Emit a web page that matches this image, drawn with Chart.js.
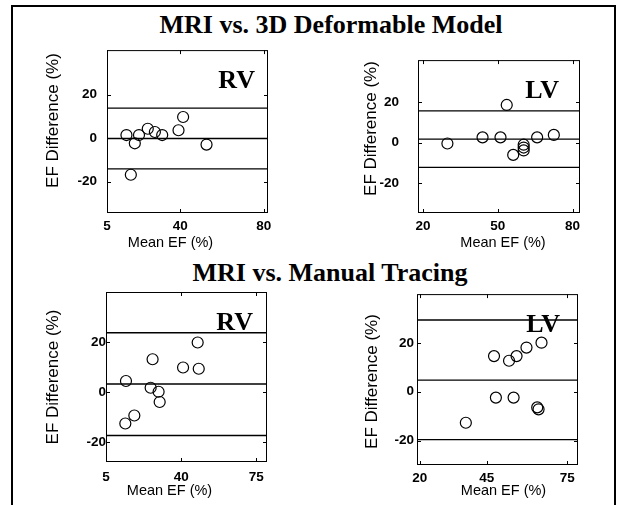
<!DOCTYPE html>
<html>
<head>
<meta charset="utf-8">
<script src="https://cdn.jsdelivr.net/npm/chart.js@4.4.0/dist/chart.umd.min.js"></script>
<style>
  html, body { margin: 0; padding: 0; background: #fff; }
  body { width: 617px; height: 505px; position: relative; overflow: hidden; }
  #frame { position: absolute; left: 11px; top: 5px; width: 605px; height: 530px; box-sizing: border-box; border: 2px solid #000; border-bottom: none; }
  .title { position: absolute; font-family: "Liberation Serif", "Times New Roman", serif; font-weight: bold; font-size: 26px; line-height: 26px; white-space: nowrap; color: #000; transform: translateX(-50%); }
  canvas { position: absolute; }
</style>
</head>
<body>
<div id="frame"></div>
<div class="title" style="left:331px; top:12px;">MRI vs. 3D Deformable Model</div>
<div class="title" style="left:330px; top:260px;">MRI vs. Manual Tracing</div>
<script>
// MRI vs. 3D deformable model, RV
const rvModelMean = [14.3, 16.4, 18.3, 20.3, 24.5, 27.9, 31.4, 39.2, 41.4, 52.6];
const rvModelDiff = [1.4, -16.9, -2.4, 1.4, 4.3, 2.8, 1.4, 3.6, 9.7, -3.0];
const rvModelLines = [13.8, -0.2, -14.2];

// MRI vs. 3D deformable model, LV
const lvModelMean = [29.8, 43.9, 51.1, 53.6, 56.2, 60.4, 60.4, 60.4, 65.8, 72.5];
const lvModelDiff = [-0.4, 2.6, 2.6, 18.5, -6.0, -1.0, -2.4, -3.8, 2.6, 3.8];
const lvModelLines = [15.6, 1.7, -12.1];

// MRI vs. manual tracing, RV
const rvManualMean = [14.3, 14.0, 18.2, 25.8, 26.7, 29.5, 30.0, 40.9, 47.7, 48.2];
const rvManualDiff = [4.4, -12.6, -9.4, 1.7, 13.1, 0.1, -4.0, 9.8, 19.8, 9.3];
const rvManualLines = [23.7, 3.2, -17.4];

// MRI vs. manual tracing, LV
const lvManualMean = [47.7, 48.4, 37.2, 53.3, 56.1, 55.0, 59.8, 65.4, 63.8, 64.3];
const lvManualDiff = [14.6, -2.4, -12.7, 12.7, 14.6, -2.4, 18.1, 20.1, -6.4, -7.2];
const lvManualLines = [29.4, 4.8, -19.6];

const yTickValues = [-20, 0, 20];
const xTicksModelRV = [5, 40, 80];
const xTicksModelLV = [20, 50, 80];
const xTicksManualRV = [5, 40, 75];
const xTicksManualLV = [20, 45, 75];

const xTitle = 'Mean EF (%)';
const yTitle = 'EF Difference (%)';

Chart.defaults.font.family = '"Liberation Sans", Arial, sans-serif';
Chart.defaults.color = '#000';

const panelDecor = {
    id: 'panelDecor',
    afterDraw(chart, args, o) {
        const { ctx, chartArea: a, scales } = chart;
        ctx.save();
        ctx.strokeStyle = '#000';
        ctx.lineWidth = 1;
        ctx.strokeRect(a.left + 0.5, a.top + 0.5, a.right - a.left - 1, a.bottom - a.top - 1);

        // small inward tick marks on all four sides
        ctx.beginPath();
        scales.x.ticks.forEach(t => {
            const px = Math.round(scales.x.getPixelForValue(t.value)) + 0.5;
            ctx.moveTo(px, a.bottom); ctx.lineTo(px, a.bottom - 4);
            ctx.moveTo(px, a.top); ctx.lineTo(px, a.top + 4);
        });
        scales.y.ticks.forEach(t => {
            const py = Math.round(scales.y.getPixelForValue(t.value)) + 0.5;
            ctx.moveTo(a.left, py); ctx.lineTo(a.left + 4, py);
            ctx.moveTo(a.right, py); ctx.lineTo(a.right - 4, py);
        });
        ctx.stroke();

        // RV / LV label
        ctx.fillStyle = '#000';
        ctx.font = 'bold 26px "Liberation Serif", "Times New Roman", serif';
        ctx.textAlign = 'right';
        ctx.textBaseline = 'alphabetic';
        ctx.fillText(o.label, a.right - o.labelRight, a.top + 38);

        // axis titles
        ctx.font = '14.5px "Liberation Sans", Arial, sans-serif';
        ctx.textAlign = 'center';
        ctx.textBaseline = 'middle';
        ctx.fillText(xTitle, (a.left + a.right) / 2 + o.xTitleDx, a.bottom + o.xTitleDy);

        ctx.translate(a.left - o.yTitleDx, (a.top + a.bottom) / 2 + o.yTitleDy);
        ctx.rotate(-Math.PI / 2);
        ctx.font = o.yTitleSize + 'px "Liberation Sans", Arial, sans-serif';
        ctx.fillText(yTitle, 0, 0);
        ctx.restore();
    }
};

function makePanel(cfg) {
    const padL = 80, padT = 10, padR = 12, padB = 45;
    const [l, t, r, b] = cfg.area;
    const canvas = document.createElement('canvas');
    canvas.width = (r - l) + padL + padR;
    canvas.height = (b - t) + padT + padB;
    canvas.style.left = (l - padL) + 'px';
    canvas.style.top = (t - padT) + 'px';
    document.body.appendChild(canvas);

    const hLine = v => ({
        type: 'line',
        data: [{ x: cfg.xMin, y: v }, { x: cfg.xMax, y: v }],
        borderColor: '#000',
        borderWidth: 1.3,
        pointRadius: 0,
        fill: false
    });

    new Chart(canvas, {
        type: 'scatter',
        data: {
            datasets: [
                ...cfg.lines.map(hLine),
                {
                    data: cfg.mean.map((m, i) => ({ x: m, y: cfg.diff[i] })),
                    pointRadius: 5.5,
                    pointStyle: 'circle',
                    borderColor: '#000',
                    borderWidth: 1.2,
                    backgroundColor: 'rgba(0,0,0,0)'
                }
            ]
        },
        options: {
            responsive: false,
            animation: false,
            layout: { padding: { left: 0, top: padT, right: padR, bottom: 0 } },
            plugins: {
                legend: { display: false },
                tooltip: { enabled: false },
                panelDecor: cfg.decor
            },
            scales: {
                x: {
                    type: 'linear',
                    min: cfg.xMin,
                    max: cfg.xMax,
                    grid: { display: false, drawTicks: false },
                    border: { display: false },
                    afterBuildTicks: s => { s.ticks = cfg.xTicks.map(v => ({ value: v })); },
                    afterFit: s => { s.height = padB; },
                    ticks: { font: { size: 13.5, weight: 'bold' }, padding: cfg.xPad, maxRotation: 0 }
                },
                y: {
                    type: 'linear',
                    min: cfg.yMin,
                    max: cfg.yMax,
                    grid: { display: false, drawTicks: false },
                    border: { display: false },
                    afterBuildTicks: s => { s.ticks = yTickValues.map(v => ({ value: v })); },
                    afterFit: s => { s.width = padL; },
                    ticks: { font: { size: 13.5, weight: 'bold' }, padding: cfg.yPad }
                }
            }
        },
        plugins: [panelDecor]
    });
}

makePanel({
    area: [107, 42, 268, 213],
    mean: rvModelMean, diff: rvModelDiff, lines: rvModelLines,
    xMin: 5, xMax: 82, yMin: -34.5, yMax: 40.5, xTicks: xTicksModelRV,
    xPad: 5, yPad: 10,
    decor: { label: 'RV', labelRight: 13, xTitleDx: -17, xTitleDy: 30, yTitleDx: 54, yTitleDy: -11, yTitleSize: 17 }
});
makePanel({
    area: [418, 43, 580, 213],
    mean: lvModelMean, diff: lvModelDiff, lines: lvModelLines,
    xMin: 18, xMax: 83, yMin: -34.5, yMax: 40.5, xTicks: xTicksModelLV,
    xPad: 5, yPad: 19,
    decor: { label: 'LV', labelRight: 21, xTitleDx: 4, xTitleDy: 30, yTitleDx: 47, yTitleDy: -8, yTitleSize: 17 }
});
makePanel({
    area: [106, 292, 267, 462],
    mean: rvManualMean, diff: rvManualDiff, lines: rvManualLines,
    xMin: 5, xMax: 80, yMin: -28, yMax: 40, xTicks: xTicksManualRV,
    xPad: 7, yPad: 0,
    decor: { label: 'RV', labelRight: 14, xTitleDx: -17, xTitleDy: 29, yTitleDx: 53, yTitleDy: 0, yTitleSize: 17 }
});
makePanel({
    area: [417, 293, 578, 465],
    mean: lvManualMean, diff: lvManualDiff, lines: lvManualLines,
    xMin: 19, xMax: 79, yMin: -30, yMax: 40, xTicks: xTicksManualLV,
    xPad: 5, yPad: 3,
    decor: { label: 'LV', labelRight: 18, xTitleDx: 6, xTitleDy: 26, yTitleDx: 45, yTitleDy: 2, yTitleSize: 17 }
});
</script>
</body>
</html>
